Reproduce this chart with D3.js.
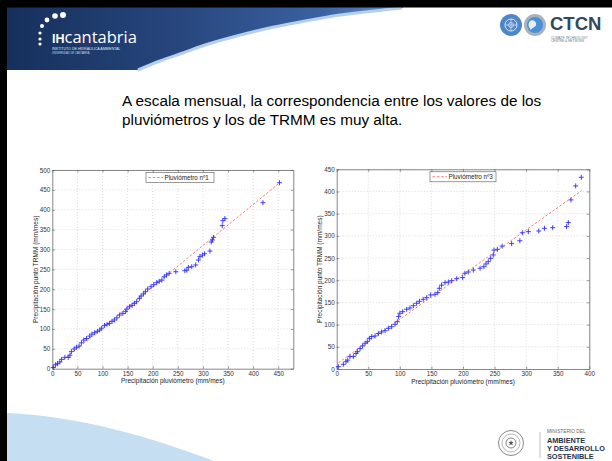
<!DOCTYPE html>
<html>
<head>
<meta charset="utf-8">
<script src="https://cdn.jsdelivr.net/npm/d3@7"></script>
<style>
  body { margin: 0; background: #fff; }
  svg { display: block; font-family: "Liberation Sans", Arial, sans-serif; }
</style>
</head>
<body>
<div id="slide"></div>
<script>
//slide text
const titleLines = [
  "A escala mensual, la correspondencia entre los valores de los",
  "pluviómetros y los de TRMM es muy alta."
];
const xLabel = "Precipitación pluviómetro (mm/mes)";
const yLabel = "Precipitación punto TRMM (mm/mes)";

//pluviometro 1 (sorted monthly values, gauge vs TRMM)
const gauge1X = [2, 6.6, 10.5, 15, 18.5, 25, 31.7, 35, 38, 43.5, 48, 53.4, 58, 62.7, 68, 74.5, 79, 84.4, 89.7, 94.3,
  98.3, 104, 109, 114, 119, 124, 128.6, 134, 140.5, 146, 148.4, 153.7, 159, 163.6, 168, 173.5, 176.8, 181.4, 185.4, 190,
  196.6, 202, 207.8, 213, 218.3, 223, 227.6, 232.8, 246, 264, 268, 271, 277.7, 285.6, 291, 294, 299, 303.4, 314, 316.6,
  319, 321, 338.4, 339.7, 343.7, 419.5, 452.5];
const trmm1Y = [3, 10, 12.6, 17, 23.5, 28.5, 28.5, 34, 43, 49.5, 54, 57, 65, 72, 76, 82, 87, 90.6, 94, 97.3,
  102, 109, 111.6, 114, 119, 122.5, 128, 135, 139, 143.5, 150, 156, 159.4, 164.4, 168.6, 177, 183, 188, 193.8, 200.5,
  206.4, 211.4, 216.4, 220, 223, 231.5, 235.7, 240, 244, 246.6, 248, 255, 256.7, 261, 273.5, 282, 286, 289.4, 296, 318.8,
  324, 330.5, 360, 372.5, 378, 417.8, 468];
const refLine1 = [[2, 2], [453, 468]];
const xTicks1 = [0, 50, 100, 150, 200, 250, 300, 350, 400, 450];
const yTicks1 = [0, 50, 100, 150, 200, 250, 300, 350, 400, 450, 500];

//pluviometro 3
const gauge3X = [2.6, 10.5, 14.8, 17.4, 21, 26.4, 30.6, 33, 37, 41, 45, 48.5, 51.7, 55.4, 60.7, 66, 71, 76.5, 81.8, 87,
  92.3, 96, 98, 100, 104.5, 110.8, 116, 121.4, 126.6, 131, 137, 142.5, 148.8, 155.7, 160, 162.5, 166, 171.5, 176.8, 182,
  190, 199.5, 203, 208.4, 216.4, 227, 233, 236.4, 240, 243.8, 248, 249, 254.4, 262, 277, 290, 294, 303.4, 320, 329,
  342, 364, 366.8, 371, 378.4, 387.3];
const trmm3Y = [5.3, 10.5, 16.5, 20, 28, 28, 35, 39, 46, 52, 58, 61.6, 69, 73, 74.4, 80, 83.4, 86.4, 91.7, 95.4,
  100.7, 106.7, 118, 125.5, 129.2, 134.5, 137.5, 142.7, 148, 152.5, 157, 160.8, 166.8, 168.3, 172, 181.8, 189, 194.6, 196, 199,
  203.6, 206, 215.6, 218.6, 223, 227, 230.6, 236.7, 242, 249.4, 257, 268, 269.7, 277, 282.5, 289, 307, 309.5, 311, 317,
  318.5, 321, 330, 381, 412.5, 432];
const refLine3 = [[2.6, 14], [388, 402]];
const xTicks3 = [0, 50, 100, 150, 200, 250, 300, 350, 400];
const yTicks3 = [0, 50, 100, 150, 200, 250, 300, 350, 400, 450];

//setting visual dimensions
const width = 612;
const height = 461;

const svg = d3.select("#slide")
  .append("svg")
  .attr("width", width)
  .attr("height", height);

//slide background
svg.append("rect").attr("width", width).attr("height", height).attr("fill", "#fff");

//bottom left swoosh
svg.append("path")
  .attr("d", "M7,413 C80,416 150,437 214,461 L7,461 Z")
  .attr("fill", "#c6def2");

//header banner: full block, then the white area under the wave cut back out
const waveEdge = [[402, 8], [383, 10], [340, 15], [300, 22], [265, 29], [233, 37], [205, 45], [183, 53], [160, 61], [138, 70]];

const bannerGrad = svg.append("defs").append("linearGradient")
  .attr("id", "bannerGrad")
  .attr("x1", "0").attr("y1", "0")
  .attr("x2", "1").attr("y2", "0");
bannerGrad.append("stop").attr("offset", "0").attr("stop-color", "#16305c");
bannerGrad.append("stop").attr("offset", "0.45").attr("stop-color", "#28477f");
bannerGrad.append("stop").attr("offset", "0.8").attr("stop-color", "#3b62a2");
bannerGrad.append("stop").attr("offset", "1").attr("stop-color", "#6a92cc");

svg.append("rect")
  .attr("x", 7).attr("y", 7)
  .attr("width", 396).attr("height", 63)
  .attr("fill", "url(#bannerGrad)");
svg.append("path")
  .attr("d", d3.line()(waveEdge.concat([[404, 71], [404, 7]])) + "Z")
  .attr("fill", "#fff");
svg.append("path")
  .attr("d", d3.line().curve(d3.curveCatmullRom)(waveEdge))
  .attr("fill", "none")
  .attr("stroke", "#b4cfee")
  .attr("stroke-width", 3);

//ih cantabria logo
const dots = [[40, 33, 1.6], [40, 39, 1.6], [40, 44, 1.6], [42, 26, 2], [47, 20, 2.4], [55, 16, 2.8], [63, 15, 3]];
svg.selectAll(".dot")
  .data(dots)
  .enter()
  .append("circle")
  .attr("class", "dot")
  .attr("cx", d => d[0])
  .attr("cy", d => d[1])
  .attr("r", d => d[2])
  .attr("fill", "#fff");

const logo = svg.append("text")
  .attr("x", 52)
  .attr("y", 43)
  .attr("fill", "#fff")
  .style("font-size", "16.5px");
logo.append("tspan").attr("font-weight", "bold").style("font-size", "12.5px").text("IH");
logo.append("tspan").attr("font-family", "'Open Sans', sans-serif").text("cantabria");

svg.append("text")
  .attr("x", 52).attr("y", 50)
  .attr("fill", "#dfe8f4")
  .style("font-size", "3.6px")
  .text("INSTITUTO DE HIDRÁULICA AMBIENTAL");
svg.append("text")
  .attr("x", 52).attr("y", 53.5)
  .attr("fill", "#c9d6ea")
  .style("font-size", "2.6px")
  .text("UNIVERSIDAD DE CANTABRIA");

//black frame
svg.append("rect").attr("x", 0).attr("y", 0).attr("width", width).attr("height", 7.5).attr("fill", "#000");
svg.append("rect").attr("x", 0).attr("y", 0).attr("width", 7).attr("height", height).attr("fill", "#000");

//top right logos (un emblem, globe, ctcn)
const un = svg.append("g").attr("transform", "translate(511,25)");
un.append("circle").attr("r", 11).attr("fill", "#4f86c8");
un.append("circle").attr("r", 6).attr("fill", "none").attr("stroke", "#d9e6f5").attr("stroke-width", 1);
un.append("circle").attr("r", 2.5).attr("fill", "none").attr("stroke", "#d9e6f5").attr("stroke-width", 0.8);
un.append("path").attr("d", "M-6,0H6M0,-6V6").attr("stroke", "#d9e6f5").attr("stroke-width", 0.7);

const globe = svg.append("g").attr("transform", "translate(535,25)");
globe.append("circle").attr("r", 11).attr("fill", "#a9b3bd");
globe.append("circle").attr("r", 8).attr("fill", "#4a90d6");
globe.append("path").attr("d", "M-5,-4 C-2,-6 2,-3 1,0 C0,3 -3,2 -4,5 C-7,2 -7,-2 -5,-4 Z").attr("fill", "#e8eef4");

svg.append("text")
  .attr("x", 550).attr("y", 30)
  .attr("fill", "#34475c")
  .attr("font-weight", "bold")
  .style("font-size", "18.5px")
  .text("CTCN");
svg.append("text").attr("x", 551).attr("y", 38.5).attr("fill", "#6b7785").style("font-size", "3.2px").text("CLIMATE TECHNOLOGY");
svg.append("text").attr("x", 551).attr("y", 42).attr("fill", "#6b7785").style("font-size", "3.2px").text("CENTRE & NETWORK");

//bottom right ministry logo
const seal = svg.append("g").attr("transform", "translate(511,443)");
seal.append("circle").attr("r", 12.5).attr("fill", "#fff").attr("stroke", "#8a8a8a").attr("stroke-width", 1);
seal.append("circle").attr("r", 9).attr("fill", "none").attr("stroke", "#9a9a9a").attr("stroke-width", 0.7);
seal.append("circle").attr("r", 5).attr("fill", "none").attr("stroke", "#777").attr("stroke-width", 0.9);
seal.append("path").attr("d", d3.symbol(d3.symbolStar, 10)()).attr("fill", "#555");

svg.append("line")
  .attr("x1", 540).attr("x2", 540).attr("y1", 432).attr("y2", 458)
  .attr("stroke", "#b0b0b0").attr("stroke-width", 0.8);
svg.append("text").attr("x", 547).attr("y", 432.5).attr("fill", "#666").style("font-size", "4.8px").text("MINISTERIO DEL");
const ministry = ["AMBIENTE", "Y DESARROLLO", "SOSTENIBLE"];
svg.selectAll(".min")
  .data(ministry)
  .enter()
  .append("text")
  .attr("class", "min")
  .attr("x", 547)
  .attr("y", (d, i) => 443.3 + i * 7.9)
  .attr("fill", "#26324a")
  .attr("font-weight", "bold")
  .style("font-size", "7.3px")
  .text(d => d);

//title text
svg.selectAll(".title")
  .data(titleLines)
  .enter()
  .append("text")
  .attr("class", "title")
  .attr("x", 122)
  .attr("y", (d, i) => 106 + i * 18.5)
  .attr("fill", "#000")
  .style("font-size", "15.3px")
  .text(d => d);

//function to draw one matlab style scatter panel
function drawPanel(opt) {
  const x = d3.scaleLinear().domain(opt.xDomain).range([opt.left, opt.right]);
  const y = d3.scaleLinear().domain(opt.yDomain).range([opt.bottom, opt.top]);
  const g = svg.append("g");

  g.append("rect")
    .attr("x", opt.left).attr("y", opt.top)
    .attr("width", opt.right - opt.left).attr("height", opt.bottom - opt.top)
    .attr("fill", "#fff");

  //grid
  g.selectAll(".gx")
    .data(opt.xTicks.slice(1))
    .enter()
    .append("line")
    .attr("x1", d => x(d)).attr("x2", d => x(d))
    .attr("y1", opt.top).attr("y2", opt.bottom)
    .attr("stroke", "#c4c4c4").attr("stroke-width", 0.6).attr("stroke-dasharray", "1,2");
  g.selectAll(".gy")
    .data(opt.yTicks.slice(1))
    .enter()
    .append("line")
    .attr("y1", d => y(d)).attr("y2", d => y(d))
    .attr("x1", opt.left).attr("x2", opt.right)
    .attr("stroke", "#c4c4c4").attr("stroke-width", 0.6).attr("stroke-dasharray", "1,2");

  //axes
  const ax = g.append("g")
    .attr("transform", `translate(0,${opt.bottom})`)
    .call(d3.axisBottom(x).tickValues(opt.xTicks).tickSize(-2.5).tickPadding(3).tickSizeOuter(0));
  const ay = g.append("g")
    .attr("transform", `translate(${opt.left},0)`)
    .call(d3.axisLeft(y).tickValues(opt.yTicks).tickSize(-2.5).tickPadding(2).tickSizeOuter(0));
  const at = g.append("g")
    .attr("transform", `translate(0,${opt.top})`)
    .call(d3.axisTop(x).tickValues(opt.xTicks).tickSize(-2.5).tickFormat("").tickSizeOuter(0));
  const ar = g.append("g")
    .attr("transform", `translate(${opt.right},0)`)
    .call(d3.axisRight(y).tickValues(opt.yTicks).tickSize(-2.5).tickFormat("").tickSizeOuter(0));
  [ax, ay, at, ar].forEach(a => {
    a.selectAll("path").attr("stroke", "#555").attr("stroke-width", 0.7);
    a.selectAll("line").attr("stroke", "#555").attr("stroke-width", 0.6);
    a.selectAll("text").attr("fill", "#333").style("font-size", "6.3px").attr("font-family", "'Liberation Sans', Arial, sans-serif");
  });

  //reference line
  g.append("path")
    .attr("d", d3.line().x(d => x(d[0])).y(d => y(d[1]))(opt.ref))
    .attr("fill", "none")
    .attr("stroke", "#ff6a6a")
    .attr("stroke-width", 0.9)
    .attr("stroke-dasharray", "2.5,1.8");

  //plus markers
  const pts = opt.xs.map((v, i) => [v, opt.ys[i]]);
  g.selectAll(".pt")
    .data(pts)
    .enter()
    .append("path")
    .attr("class", "pt")
    .attr("transform", d => `translate(${x(d[0])},${y(d[1])})`)
    .attr("d", "M-2.5,0H2.5M0,-2.5V2.5")
    .attr("stroke", "#2f2fff")
    .attr("stroke-width", 0.9);

  //legend
  const lg = g.append("g").attr("transform", `translate(${opt.legendX},${opt.top + 2.5})`);
  lg.append("rect")
    .attr("width", opt.legendW).attr("height", 10)
    .attr("fill", "#fff").attr("stroke", "#555").attr("stroke-width", 0.6);
  lg.append("line")
    .attr("x1", 2.5).attr("x2", 17).attr("y1", 5).attr("y2", 5)
    .attr("stroke", "#ff6a6a").attr("stroke-width", 0.9).attr("stroke-dasharray", "2.5,1.8");
  lg.append("text")
    .attr("x", 18.5).attr("y", 7.2)
    .attr("fill", "#222")
    .style("font-size", "6.3px")
    .text(opt.legend);

  //axis labels
  g.append("text")
    .attr("x", (opt.left + opt.right) / 2)
    .attr("y", opt.bottom + 14.5)
    .attr("text-anchor", "middle")
    .attr("fill", "#222")
    .style("font-size", "6.5px")
    .text(xLabel);
  g.append("text")
    .attr("transform", `translate(${opt.yLabelX},${(opt.top + opt.bottom) / 2}) rotate(-90)`)
    .attr("text-anchor", "middle")
    .attr("fill", "#222")
    .style("font-size", "6.5px")
    .text(yLabel);
}

drawPanel({
  xs: gauge1X, ys: trmm1Y, ref: refLine1,
  xDomain: [0, 480], yDomain: [0, 500],
  xTicks: xTicks1, yTicks: yTicks1,
  left: 52.3, right: 293.3, top: 170, bottom: 368.7,
  legendX: 146, legendW: 68, legend: "Pluviómetro nº1", yLabelX: 38
});

drawPanel({
  xs: gauge3X, ys: trmm3Y, ref: refLine3,
  xDomain: [0, 400], yDomain: [0, 450],
  xTicks: xTicks3, yTicks: yTicks3,
  left: 336.7, right: 589.3, top: 169.3, bottom: 369,
  legendX: 430, legendW: 66, legend: "Pluviómetro nº3", yLabelX: 322
});
</script>
</body>
</html>
